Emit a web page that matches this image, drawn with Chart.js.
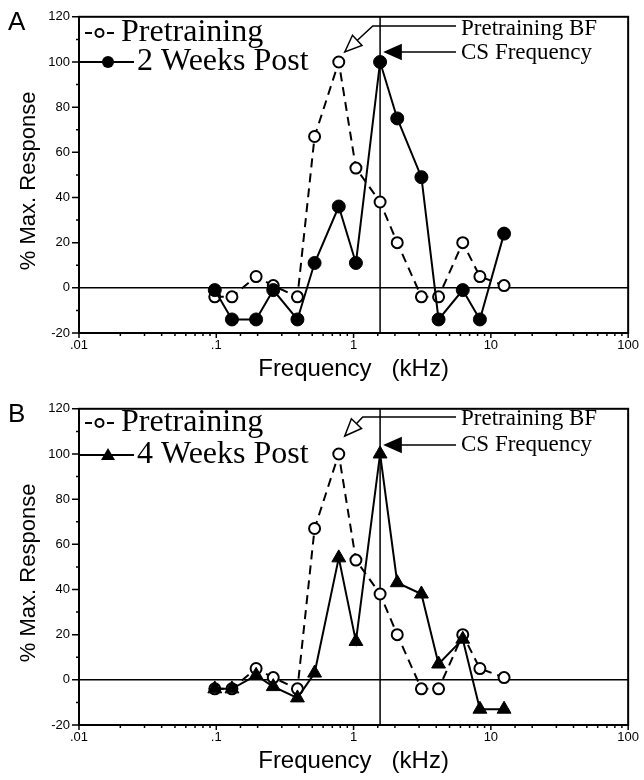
<!DOCTYPE html>
<html lang="en">
<head>
  <meta charset="UTF-8">
  <title>Frequency tuning before and after training</title>
  <script src="https://cdn.jsdelivr.net/npm/chart.js"></script>
  <style>
    body {
      margin: 0;
      background: #fff;
      overflow: hidden;
    }
    .panel {
      position: absolute;
      left: 0;
      width: 644px;
      height: 390px;
    }
    #panelA { top: 0; }
    #panelB { top: 392px; }
  </style>
</head>
<body>
  <div class="panel" id="panelA"><canvas id="chartA" width="644" height="390"></canvas></div>
  <div class="panel" id="panelB"><canvas id="chartB" width="644" height="390"></canvas></div>

  <script>
    // frequencies in kHz, responses in % of max
    const frequencies = [0.0975, 0.13, 0.195, 0.26, 0.39, 0.52, 0.78, 1.04, 1.56, 2.08, 3.12, 4.16, 6.24, 8.32, 12.48];
    const pretraining = [-4, -4, 5, 1, -4, 67, 100, 53, 38, 20, -4, -4, 20, 5, 1];
    const twoWeeksPost = [-1, -14, -14, -1, -14, 11, 36, 11, 100, 75, 49, -14, -1, -14, 24];
    const fourWeeksPost = [-4, -4, 2, -3, -8, 3, 54, 17, 100, 43, 38, 7, 18, -13, -13];
    const csFrequency = 1.56;
    const bestFrequency = 0.78;
    const decadeValues = [0.01, 0.1, 1, 10, 100];
    const decadeLabels = ['.01', '.1', '1', '10', '100'];

    const SANS = '"Liberation Sans", Arial, sans-serif';
    const SERIF = '"Liberation Serif", "Times New Roman", serif';

    function toPoints(values) {
      return frequencies.map((f, i) => ({ x: f, y: values[i] }));
    }

    function decadeIndex(v) {
      return decadeValues.findIndex(d => Math.abs(Math.log10(v) - Math.log10(d)) < 1e-6);
    }

    function arrowHead(ctx, tipX, tipY, angle, len, half, filled) {
      ctx.save();
      ctx.translate(tipX, tipY);
      ctx.rotate(angle);
      ctx.beginPath();
      ctx.moveTo(0, 0);
      ctx.lineTo(len, -half);
      ctx.lineTo(len, half);
      ctx.closePath();
      ctx.fillStyle = filled ? '#000' : '#fff';
      ctx.fill();
      ctx.lineWidth = 1.5;
      ctx.strokeStyle = '#000';
      ctx.stroke();
      ctx.restore();
    }

    const framePlugin = {
      id: 'frame',
      beforeDatasetsDraw(chart) {
        const { ctx, chartArea: a, scales: { x, y } } = chart;
        ctx.save();
        ctx.strokeStyle = '#000';
        ctx.lineWidth = 1.5;
        const y0 = y.getPixelForValue(0);
        ctx.beginPath();
        ctx.moveTo(a.left, y0);
        ctx.lineTo(a.right, y0);
        const xc = x.getPixelForValue(csFrequency);
        ctx.moveTo(xc, a.top);
        ctx.lineTo(xc, a.bottom);
        ctx.stroke();
        ctx.restore();
      },
      afterDraw(chart, args, opts) {
        const { ctx, chartArea: a, scales: { x, y } } = chart;
        ctx.save();
        ctx.strokeStyle = '#000';
        ctx.lineWidth = 2;
        ctx.strokeRect(a.left, a.top, a.right - a.left, a.bottom - a.top);

        // tick marks
        ctx.lineWidth = 1.5;
        ctx.beginPath();
        x.ticks.forEach(t => {
          const px = x.getPixelForValue(t.value);
          const len = decadeIndex(t.value) >= 0 ? 5 : 3;
          ctx.moveTo(px, a.bottom);
          ctx.lineTo(px, a.bottom + len);
        });
        y.ticks.forEach(t => {
          const py = y.getPixelForValue(t.value);
          const len = t.value % 20 === 0 ? 7 : 3;
          ctx.moveTo(a.left, py);
          ctx.lineTo(a.left - len, py);
        });
        ctx.stroke();

        ctx.fillStyle = '#000';
        ctx.textBaseline = 'middle';

        // y axis title, sits a little below the middle of the plot
        ctx.save();
        ctx.font = '22px ' + SANS;
        ctx.textAlign = 'center';
        ctx.translate(29, (a.top + a.bottom) / 2 + 6);
        ctx.rotate(-Math.PI / 2);
        ctx.fillText('% Max. Response', 0, 0);
        ctx.restore();

        // panel letter
        ctx.font = '26px ' + SANS;
        ctx.textAlign = 'left';
        ctx.fillText(opts.letter, 8, a.top + 6);

        // legend
        const lx = a.left;
        ctx.font = '32px ' + SERIF;
        const ly1 = opts.legendY[0], ly2 = opts.legendY[1];
        ctx.lineWidth = 2;
        ctx.beginPath();
        ctx.moveTo(lx + 6, ly1); ctx.lineTo(lx + 13, ly1);
        ctx.moveTo(lx + 28, ly1); ctx.lineTo(lx + 35, ly1);
        ctx.stroke();
        ctx.beginPath();
        ctx.arc(lx + 20.5, ly1, 4, 0, Math.PI * 2);
        ctx.fillStyle = '#fff';
        ctx.fill();
        ctx.stroke();
        ctx.fillStyle = '#000';
        ctx.fillText('Pretraining', lx + 42, ly1);

        ctx.beginPath();
        ctx.moveTo(lx, ly2); ctx.lineTo(lx + 55, ly2);
        ctx.stroke();
        if (opts.marker === 'triangle') {
          ctx.beginPath();
          ctx.moveTo(lx + 29, ly2 - 7);
          ctx.lineTo(lx + 36, ly2 + 5);
          ctx.lineTo(lx + 22, ly2 + 5);
          ctx.closePath();
          ctx.fill();
        } else {
          ctx.beginPath();
          ctx.arc(lx + 29, ly2, 6, 0, Math.PI * 2);
          ctx.fill();
        }
        ctx.fillText(opts.postLabel, lx + 58, ly2);

        // annotations
        ctx.font = '23px ' + SERIF;
        const textX = 461;
        const bf = opts.bf, cs = opts.cs;
        ctx.fillText('Pretraining BF', textX, bf.textY);
        ctx.fillText('CS Frequency', textX, cs.textY);

        const tipBx = x.getPixelForValue(bestFrequency) + 6;
        const tipBy = y.getPixelForValue(100) - bf.tipOffset;
        const elbowX = tipBx + bf.elbow;
        ctx.lineWidth = 1.5;
        ctx.beginPath();
        ctx.moveTo(textX - 5, bf.lineY);
        ctx.lineTo(elbowX, bf.lineY);
        ctx.lineTo(tipBx, tipBy);
        ctx.stroke();
        arrowHead(ctx, tipBx, tipBy, Math.atan2(bf.lineY - tipBy, elbowX - tipBx), 17, 7, false);

        const tipCx = x.getPixelForValue(csFrequency) + 5;
        ctx.lineWidth = 1.5;
        ctx.beginPath();
        ctx.moveTo(textX - 5, cs.lineY);
        ctx.lineTo(tipCx + 10, cs.lineY);
        ctx.stroke();
        arrowHead(ctx, tipCx, cs.lineY, 0, 16, 7, true);
        ctx.restore();
      }
    };

    function makeChart(id, postLabel, postValues, marker, extra) {
      return new Chart(document.getElementById(id), {
        type: 'line',
        data: {
          datasets: [
            {
              label: postLabel,
              data: toPoints(postValues),
              borderColor: '#000',
              borderWidth: 2,
              pointStyle: marker,
              pointRadius: marker === 'triangle' ? 8 : 6.5,
              pointBackgroundColor: '#000',
              pointBorderColor: '#000',
              pointBorderWidth: 1,
              order: 1
            },
            {
              label: 'Pretraining',
              data: toPoints(pretraining),
              borderColor: '#000',
              borderWidth: 2,
              borderDash: [9, 6],
              pointStyle: 'circle',
              pointRadius: 5.5,
              pointBackgroundColor: '#fff',
              pointBorderColor: '#000',
              pointBorderWidth: 2,
              order: 2
            }
          ]
        },
        options: {
          responsive: false,
          animation: false,
          devicePixelRatio: 1,
          layout: { padding: { top: 15, right: 9, left: 0, bottom: 0 } },
          plugins: {
            legend: { display: false },
            tooltip: { enabled: false },
            frame: Object.assign({ letter: id === 'chartA' ? 'A' : 'B', postLabel: postLabel, marker: marker }, extra)
          },
          scales: {
            x: {
              type: 'logarithmic',
              min: 0.01,
              max: 100,
              grid: { display: false, drawTicks: false },
              border: { display: false },
              ticks: {
                autoSkip: false,
                maxRotation: 0,
                padding: 5,
                color: '#000',
                font: { family: SANS, size: 13 },
                callback: v => {
                  const i = decadeIndex(v);
                  return i >= 0 ? decadeLabels[i] : '';
                }
              },
              title: {
                display: true,
                text: 'Frequency   (kHz)',
                color: '#000',
                font: { family: SANS, size: 24 },
                padding: { top: 0, bottom: 6 }
              },
              afterFit: s => { s.height = 57; }
            },
            y: {
              min: -20,
              max: 120,
              grid: { display: false, drawTicks: false },
              border: { display: false },
              ticks: {
                stepSize: 10,
                padding: 9,
                color: '#000',
                font: { family: SANS, size: 13 },
                callback: v => (v % 20 === 0 ? v : '')
              },
              afterFit: s => { s.width = 79; }
            }
          }
        },
        plugins: [framePlugin]
      });
    }

    makeChart('chartA', '2 Weeks Post', twoWeeksPost, 'circle', {
      legendY: [33, 62],
      bf: { textY: 29, lineY: 26, tipOffset: 10, elbow: 28 },
      cs: { textY: 53, lineY: 52 }
    });
    makeChart('chartB', '4 Weeks Post', fourWeeksPost, 'triangle', {
      legendY: [31, 63],
      bf: { textY: 27, lineY: 25, tipOffset: 18, elbow: 18 },
      cs: { textY: 53, lineY: 53 }
    });
  </script>
</body>
</html>
